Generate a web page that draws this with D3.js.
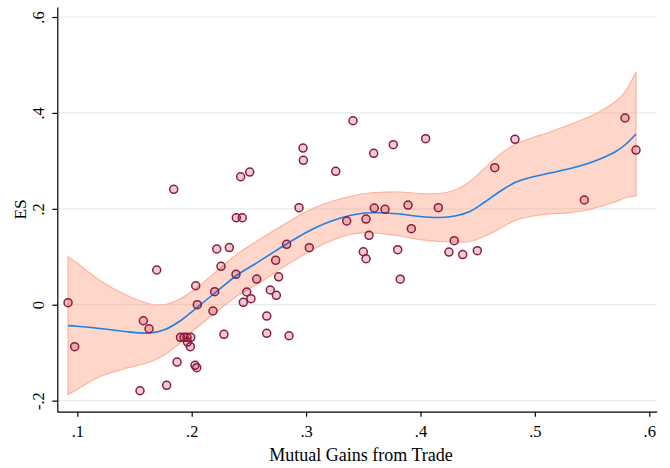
<!DOCTYPE html>
<html>
<head>
<meta charset="utf-8">
<script src="https://cdn.jsdelivr.net/npm/d3@7"></script>
<style>
  html, body { margin: 0; padding: 0; background: #ffffff; }
  svg { display: block; }
  text { font-family: "Liberation Serif", "DejaVu Serif", serif; fill: #000; }
</style>
</head>
<body>
<svg id="chart" width="670" height="468"></svg>
<script>
// ---- Data ----
const mutualGains = [0.0919,0.0977,0.1694,0.1548,0.1781,0.1577,0.1627,0.1872,0.1902,0.1933,0.1959,0.1991,0.1963,0.1988,0.2029,0.2044,0.2035,0.2049,0.2219,0.2329,0.2256,0.2387,0.2201,0.2186,0.2282,0.2481,0.2451,0.2518,0.2568,0.2656,0.2656,0.2687,0.2740,0.2734,0.2760,0.2851,0.2830,0.3028,0.2938,0.2973,0.2976,0.3259,0.3410,0.3591,0.3762,0.4045,0.3596,0.3690,0.3891,0.4156,0.3355,0.3524,0.3550,0.3920,0.3500,0.3524,0.3801,0.3823,0.4295,0.4249,0.4369,0.4497,0.4649,0.4826,0.5432,0.5788,0.5884,0.1843,0.2428,0.2507,0.2390,0.2442];
const esValues = [0.0042,-0.0876,0.0724,-0.1794,-0.1681,-0.0334,-0.0501,-0.1195,-0.0680,-0.0680,-0.0680,-0.0680,-0.0778,-0.0876,-0.1264,-0.1314,0.0396,0.0000,0.1162,0.1193,0.0801,0.0634,0.0271,-0.0131,-0.0617,0.0265,0.0050,0.0125,0.0536,-0.0236,-0.0596,0.0307,0.0196,0.0926,0.0582,-0.0647,0.1260,0.1189,0.2023,0.3268,0.3011,0.2782,0.3837,0.3157,0.3337,0.3462,0.2017,0.1990,0.2079,0.2023,0.1746,0.1787,0.1447,0.1585,0.1105,0.0959,0.1147,0.0532,0.1335,0.1099,0.1047,0.1126,0.2857,0.3449,0.2184,0.3894,0.3226,0.2407,0.2669,0.2767,0.1814,0.1814];

// Local polynomial fit with 95% CI
const fitX = [0.0919,0.1000,0.1198,0.1417,0.1636,0.1767,0.1898,0.2029,0.2160,0.2291,0.2422,0.2553,0.2684,0.2815,0.2946,0.3077,0.3235,0.3383,0.3514,0.3645,0.3820,0.3995,0.4170,0.4301,0.4432,0.4563,0.4694,0.4826,0.4957,0.5132,0.5307,0.5438,0.5569,0.5700,0.5787,0.5884];
const fitY = [-0.0436,-0.0450,-0.0496,-0.0559,-0.0590,-0.0517,-0.0340,-0.0090,0.0161,0.0421,0.0661,0.0849,0.1047,0.1245,0.1433,0.1600,0.1756,0.1860,0.1912,0.1917,0.1892,0.1839,0.1819,0.1850,0.1944,0.2142,0.2361,0.2548,0.2653,0.2747,0.2840,0.2924,0.3039,0.3185,0.3331,0.3560];
const ciLow = [-0.1875,-0.1764,-0.1497,-0.1331,-0.1195,-0.1038,-0.0799,-0.0507,-0.0256,-0.0007,0.0223,0.0401,0.0599,0.0807,0.0995,0.1172,0.1349,0.1464,0.1505,0.1489,0.1433,0.1359,0.1318,0.1308,0.1318,0.1433,0.1589,0.1756,0.1840,0.1892,0.1922,0.1965,0.2048,0.2142,0.2226,0.2267];
const ciHigh = [0.1003,0.0864,0.0505,0.0213,0.0015,0.0004,0.0119,0.0327,0.0578,0.0849,0.1099,0.1297,0.1495,0.1683,0.1871,0.2028,0.2163,0.2256,0.2319,0.2345,0.2351,0.2319,0.2320,0.2392,0.2570,0.2851,0.3133,0.3340,0.3466,0.3602,0.3758,0.3883,0.4030,0.4228,0.4436,0.4853];

const xTicks = [0.1,0.2,0.3,0.4,0.5,0.6];
const xTickLabels = [".1",".2",".3",".4",".5",".6"];
const yTicks = [-0.2,0,0.2,0.4,0.6];
const yTickLabels = ["-.2","0",".2",".4",".6"];
const xTitle = "Mutual Gains from Trade";
const yTitle = "ES";

// ---- Drawing ----
const svg = d3.select("#chart");
const x = d3.scaleLinear().domain([0.0825, 0.6065]).range([57.3, 656.7]);
const y = d3.scaleLinear().domain([-0.2231, 0.6209]).range([411.7, 7]);

// grid lines
svg.append("g").selectAll("line").data(yTicks).join("line")
  .attr("x1", x.range()[0]).attr("x2", x.range()[1])
  .attr("y1", d => y(d)).attr("y2", d => y(d))
  .attr("stroke", "#e4ecec").attr("stroke-width", 1.2);

// CI band
const band = fitX.map((d, i) => ({x: d, lo: ciLow[i], hi: ciHigh[i]}));
svg.append("path").datum(band)
  .attr("d", d3.area().curve(d3.curveCatmullRom.alpha(0.5))
    .x(d => x(d.x)).y0(d => y(d.lo)).y1(d => y(d.hi)))
  .attr("fill", "#fb8f6c").attr("fill-opacity", 0.36)
  .attr("stroke", "#fbb49a").attr("stroke-width", 1.2);

// fit line
const fit = fitX.map((d, i) => ({x: d, y: fitY[i]}));
svg.append("path").datum(fit)
  .attr("d", d3.line().curve(d3.curveCatmullRom.alpha(0.5)).x(d => x(d.x)).y(d => y(d.y)))
  .attr("fill", "none").attr("stroke", "#1f7fe6").attr("stroke-width", 1.6);

// points
const pts = mutualGains.map((d, i) => ({x: d, y: esValues[i]}));
svg.append("g").selectAll("circle").data(pts).join("circle")
  .attr("cx", d => x(d.x)).attr("cy", d => y(d.y)).attr("r", 4)
  .attr("fill", "#a01d45").attr("fill-opacity", 0.22)
  .attr("stroke", "#8e1a3c").attr("stroke-width", 1.5);

// axes
const xAxis = svg.append("g").attr("transform", `translate(0,${y.range()[0]})`)
  .call(d3.axisBottom(x).tickValues(xTicks).tickFormat((d, i) => xTickLabels[i]).tickSize(5).tickPadding(9).tickSizeOuter(0));
const yAxis = svg.append("g").attr("transform", `translate(${x.range()[0]},0)`)
  .call(d3.axisLeft(y).tickValues(yTicks).tickFormat((d, i) => yTickLabels[i]).tickSize(5).tickSizeOuter(0));
[xAxis, yAxis].forEach(g => {
  g.select(".domain").attr("stroke", "#000").attr("stroke-width", 1.2);
  g.selectAll(".tick line").attr("stroke", "#000").attr("stroke-width", 1.2);
  g.selectAll("text").style("font-family", '"Liberation Serif", serif').style("font-size", "16.5px").attr("fill", "#000");
});
yAxis.selectAll(".tick text")
  .attr("x", null).attr("dy", null)
  .attr("text-anchor", "middle")
  .attr("transform", "translate(-13,0) rotate(-90)");

// titles
svg.append("text").attr("x", (x.range()[0] + x.range()[1]) / 2 + 4).attr("y", 461)
  .attr("text-anchor", "middle").style("font-size", "18px").text(xTitle);
svg.append("text").attr("transform", `translate(26,${(y.range()[0] + y.range()[1]) / 2}) rotate(-90)`)
  .attr("text-anchor", "middle").style("font-size", "17.5px").text(yTitle);
</script>
</body>
</html>
